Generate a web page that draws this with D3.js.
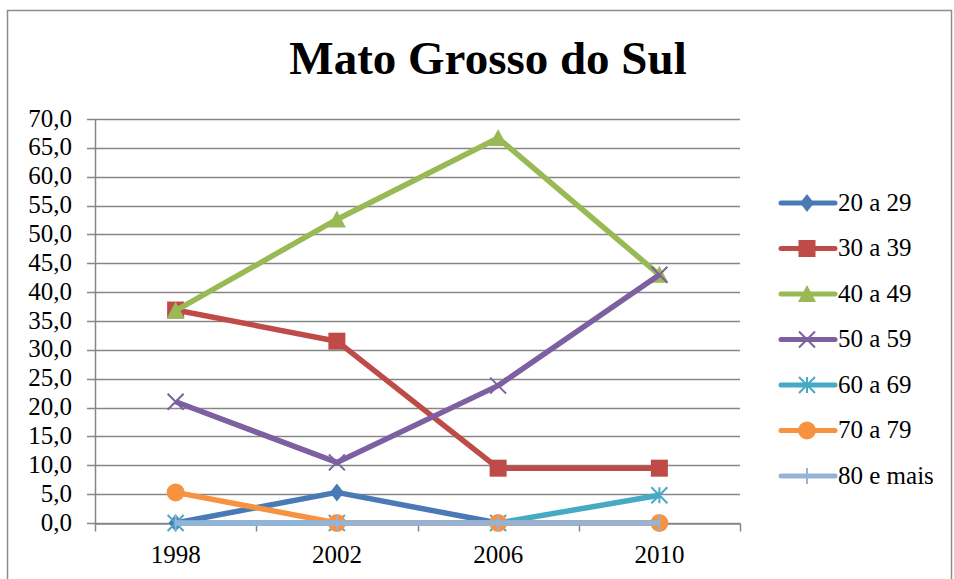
<!DOCTYPE html>
<html>
<head>
<meta charset="utf-8">
<script src="https://cdn.jsdelivr.net/npm/d3@7"></script>
<style>
  body { margin: 0; background: #fff; }
  svg text { font-family: "Liberation Serif", "Times New Roman", serif; fill: #000; }
</style>
</head>
<body>
<svg id="chart" width="954" height="579"></svg>
<script>
// data
var years = ['1998', '2002', '2006', '2010'];
var seriesNames = ['20 a 29', '30 a 39', '40 a 49', '50 a 59', '60 a 69', '70 a 79', '80 e mais'];
var v2029 = [0, 5.3, 0, 0];
var v3039 = [36.9, 31.5, 9.5, 9.5];
var v4049 = [36.8, 52.6, 66.7, 43.0];
var v5059 = [21.0, 10.5, 23.8, 43.0];
var v6069 = [0, 0, 0, 4.8];
var v7079 = [5.3, 0, 0, 0];
var v80 = [0, 0, 0, 0];
var yTicks = d3.range(0, 70.1, 5);

var colors = ['#4a7ab5', '#be4b48', '#98b954', '#7d60a0', '#46aac5', '#f69240', '#95b3d7'];
var shapes = ['diamond', 'square', 'triangle', 'x', 'star', 'circle', 'plus'];
var values = [v2029, v3039, v4049, v5059, v6069, v7079, v80];

var chart = {};
chart.margin = { left: 95, right: 740, top: 119, bottom: 523 };
chart.font = '"Liberation Serif", "Times New Roman", serif';

var svg = d3.select('#chart');

// outer frame
svg.append('rect')
  .attr('x', 7.5).attr('y', 10.5)
  .attr('width', 944).attr('height', 570)
  .attr('fill', 'none').attr('stroke', '#8c8c8c').attr('stroke-width', 1.5);

svg.append('text')
  .attr('x', 488).attr('y', 74)
  .attr('text-anchor', 'middle')
  .style('font-family', chart.font)
  .style('font-size', '47px').style('font-weight', 'bold')
  .text('Mato Grosso do Sul');

var x = d3.scaleBand().domain(years)
  .range([chart.margin.left, chart.margin.right]);
var y = d3.scaleLinear().domain([0, 70])
  .range([chart.margin.bottom, chart.margin.top]);

// gridlines + y ticks
var grid = svg.append('g');
grid.selectAll('line')
  .data(yTicks)
  .enter().append('line')
  .attr('x1', chart.margin.left - 8)
  .attr('x2', chart.margin.right)
  .attr('y1', d => Math.round(y(d)) + 0.5)
  .attr('y2', d => Math.round(y(d)) + 0.5)
  .attr('stroke', '#868686').attr('stroke-width', 1.5);

grid.selectAll('text')
  .data(yTicks)
  .enter().append('text')
  .attr('x', 72)
  .attr('y', d => y(d))
  .attr('dy', '0.3em')
  .attr('text-anchor', 'end')
  .style('font-family', chart.font)
  .style('font-size', '25px')
  .text(d => d3.format('.1f')(d).replace('.', ','));

// y axis line
svg.append('line')
  .attr('x1', chart.margin.left + 0.5).attr('x2', chart.margin.left + 0.5)
  .attr('y1', chart.margin.top).attr('y2', chart.margin.bottom)
  .attr('stroke', '#868686').attr('stroke-width', 1.5);

// x axis
var xAxis = svg.append('g')
  .attr('transform', 'translate(0,' + (chart.margin.bottom + 0.5) + ')')
  .call(d3.axisBottom(x).tickSize(0).tickPadding(22));
xAxis.select('.domain').attr('stroke', '#868686').attr('stroke-width', 1.5);
xAxis.selectAll('text')
  .style('font-family', chart.font)
  .style('font-size', '25px').attr('fill', '#000');

var bounds = years.map(d => x(d)).concat([chart.margin.right]);
xAxis.selectAll('.bound')
  .data(bounds)
  .enter().append('line')
  .attr('class', 'bound')
  .attr('x1', d => Math.round(d) + 0.5).attr('x2', d => Math.round(d) + 0.5)
  .attr('y1', 0).attr('y2', 8)
  .attr('stroke', '#868686').attr('stroke-width', 1.5);

// markers
chart.marker = function(sel, shape, color, size) {
  var s = size;
  if (shape === 'diamond') {
    sel.append('path').attr('d', 'M0,' + (-s / 2 - 1) + 'L' + (s / 2 - 1) + ',0L0,' + (s / 2 + 1) + 'L' + (-s / 2 + 1) + ',0Z')
      .attr('fill', color);
  } else if (shape === 'square') {
    sel.append('rect').attr('x', -s / 2 - 0.5).attr('y', -s / 2 - 0.5)
      .attr('width', s + 1).attr('height', s + 1).attr('fill', color);
  } else if (shape === 'triangle') {
    sel.append('path').attr('d', 'M0,' + (-s / 2 - 1) + 'L' + (s / 2 + 1) + ',' + (s / 2) + 'L' + (-s / 2 - 1) + ',' + (s / 2) + 'Z')
      .attr('fill', color);
  } else if (shape === 'x') {
    sel.append('path')
      .attr('d', 'M' + (-s / 2) + ',' + (-s / 2) + 'L' + (s / 2) + ',' + (s / 2) +
        'M' + (s / 2) + ',' + (-s / 2) + 'L' + (-s / 2) + ',' + (s / 2))
      .attr('stroke', color).attr('stroke-width', 2).attr('fill', 'none');
  } else if (shape === 'star') {
    sel.append('path')
      .attr('d', 'M' + (-s / 2) + ',' + (-s / 2) + 'L' + (s / 2) + ',' + (s / 2) +
        'M' + (s / 2) + ',' + (-s / 2) + 'L' + (-s / 2) + ',' + (s / 2) +
        'M0,' + (-s / 2) + 'L0,' + (s / 2))
      .attr('stroke', color).attr('stroke-width', 2).attr('fill', 'none');
  } else if (shape === 'circle') {
    sel.append('circle').attr('r', s / 2 + 1).attr('fill', color);
  } else if (shape === 'plus') {
    sel.append('path')
      .attr('d', 'M0,' + (-s / 2) + 'L0,' + (s / 2))
      .attr('stroke', color).attr('stroke-width', 2).attr('fill', 'none');
  }
};

var line = d3.line()
  .x((d, i) => x(years[i]) + x.bandwidth() / 2)
  .y(d => y(d));

var plot = svg.append('g');
values.forEach(function(vals, k) {
  var g = plot.append('g');
  g.append('path')
    .attr('d', line(vals))
    .attr('fill', 'none')
    .attr('stroke', colors[k])
    .attr('stroke-width', 5.5)
    .attr('stroke-linejoin', 'round');
  vals.forEach(function(v, i) {
    var m = g.append('g')
      .attr('transform', 'translate(' + (x(years[i]) + x.bandwidth() / 2) + ',' + y(v) + ')');
    chart.marker(m, shapes[k], colors[k], 16);
  });
});

// legend
var legend = svg.append('g');
seriesNames.forEach(function(name, k) {
  var ly = 203 + k * 45.5;
  var row = legend.append('g').attr('transform', 'translate(0,' + ly + ')');
  row.append('line')
    .attr('x1', 781).attr('x2', 835).attr('y1', 0).attr('y2', 0)
    .attr('stroke', colors[k]).attr('stroke-width', 5).attr('stroke-linecap', 'round');
  var m = row.append('g').attr('transform', 'translate(807,0)');
  chart.marker(m, shapes[k], colors[k], 16);
  row.append('text')
    .attr('x', 838).attr('y', 0).attr('dy', '0.3em')
    .style('font-family', chart.font)
    .style('font-size', '25px')
    .text(name);
});
</script>
</body>
</html>
